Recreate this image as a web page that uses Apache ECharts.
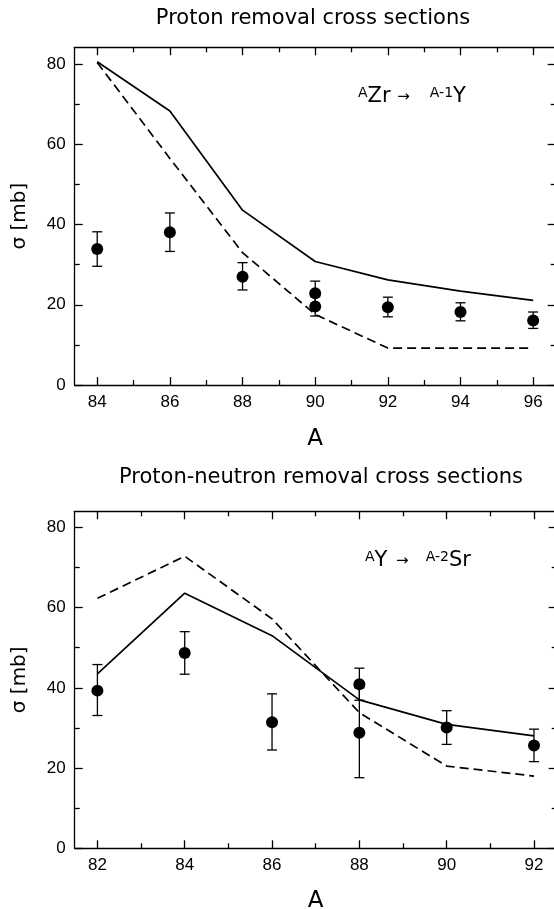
<!DOCTYPE html>
<html>
<head>
<meta charset="utf-8">
<script src="https://cdn.jsdelivr.net/npm/echarts@6/dist/echarts.min.js"></script>
<style>
  html, body { margin: 0; padding: 0; background: #fff; }
  #chart { width: 554px; height: 909px; }
</style>
</head>
<body>
<div id="chart"></div>
<script>
// ---- Proton removal: AZr -> A-1Y ----
const zrMass = [84, 86, 88, 90, 92, 94, 96];
const zrSolid = [80.6, 68.3, 43.6, 30.8, 26.2, 23.4, 21.1];
const zrDashed = [80.4, 56.5, 33.0, 17.6, 9.2, 9.2, 9.2];
const zrExpMass = [84, 86, 88, 90, 90, 92, 94, 96];
const zrExpSigma = [33.9, 38.1, 27.0, 22.9, 19.6, 19.4, 18.2, 16.1];
const zrExpLow = [29.6, 33.3, 23.7, 19.9, 17.2, 17.0, 16.0, 14.1];
const zrExpHigh = [38.2, 42.9, 30.5, 25.9, 22.0, 21.9, 20.5, 18.2];
const zrTicksMajor = [84, 86, 88, 90, 92, 94, 96];
const zrTicksMinor = [85, 87, 89, 91, 93, 95];

// ---- Proton-neutron removal: AY -> A-2Sr ----
const yMass = [82, 84, 86, 88, 90, 92];
const ySolid = [43.5, 63.6, 53.0, 37.0, 30.9, 28.0];
const yDashed = [62.3, 72.8, 57.2, 33.8, 20.5, 18.0];
const yExpMass = [82, 84, 86, 88, 88, 90, 92];
const yExpSigma = [39.3, 48.7, 31.4, 40.9, 28.8, 30.1, 25.6];
const yExpLow = [33.1, 43.4, 24.5, 36.9, 17.6, 25.9, 21.6];
const yExpHigh = [45.8, 54.0, 38.5, 44.9, 40.0, 34.3, 29.7];
const yTicksMajor = [82, 84, 86, 88, 90, 92];
const yTicksMinor = [83, 85, 87, 89, 91];

const sigmaMajor = [0, 20, 40, 60, 80];
const sigmaMinor = [10, 30, 50, 70];

const LABEL_FONT = 'Liberation Sans';
const TEXT_FONT = 'DejaVu Sans';
const INK = '#000';

function zip(a, b) { return a.map((v, i) => [v, b[i]]); }
function zip3(a, b, c) { return a.map((v, i) => [v, b[i], c[i]]); }

// Four axes per direction: labelled major, short minor, and mirrored ones on the opposite side
function frameAxes(kind, gridIndex, min, max, major, minor, name, nameGap) {
  const lowSide = kind === 'x' ? 'bottom' : 'left';
  const highSide = kind === 'x' ? 'top' : 'right';
  const base = (position, ticks, len, withLabels, withLine) => ({
    type: 'value', gridIndex, position, min, max,
    axisLine: { show: withLine, onZero: false, lineStyle: { color: INK, width: 1.3 } },
    axisTick: { show: true, inside: true, length: len, customValues: ticks, lineStyle: { color: INK, width: 1.3 } },
    axisLabel: withLabels ? {
      show: true, customValues: ticks, margin: 9,
      fontFamily: LABEL_FONT, fontSize: 17, color: INK,
      formatter: v => String(v)
    } : { show: false },
    splitLine: { show: false },
    name: withLabels ? name : '',
    nameLocation: 'middle', nameGap,
    nameRotate: kind === 'y' ? 90 : 0,
    nameTextStyle: { fontFamily: TEXT_FONT, fontSize: kind === 'y' ? 20 : 23, color: INK }
  });
  // the right-hand frame edge falls just past the page edge, so only its ticks show
  const highLine = kind === 'x';
  return [
    base(lowSide, major, 8, true, true),
    base(lowSide, minor, 5, false, false),
    base(highSide, major, 8, false, highLine),
    base(highSide, minor, 5, false, false)
  ];
}

function curveSeries(xi, yi, mass, vals, dashed) {
  return {
    type: 'line', xAxisIndex: xi, yAxisIndex: yi,
    data: zip(mass, vals), showSymbol: false, symbol: 'none',
    lineStyle: { color: INK, width: 1.7, type: dashed ? [9, 5] : 'solid' },
    z: 2, animation: false
  };
}

function pointSeries(xi, yi, mass, vals) {
  return {
    type: 'scatter', xAxisIndex: xi, yAxisIndex: yi,
    data: zip(mass, vals), symbol: 'circle', symbolSize: 12,
    itemStyle: { color: INK, opacity: 1 }, z: 4, animation: false
  };
}

function errorSeries(xi, yi, mass, low, high) {
  return {
    type: 'custom', xAxisIndex: xi, yAxisIndex: yi,
    data: zip3(mass, low, high),
    encode: { x: 0, y: [1, 2] },
    renderItem: (params, api) => {
      const top = api.coord([api.value(0), api.value(2)]);
      const bot = api.coord([api.value(0), api.value(1)]);
      const half = 5;
      const st = { stroke: INK, lineWidth: 1.3 };
      return {
        type: 'group',
        children: [
          { type: 'line', shape: { x1: top[0], y1: top[1], x2: bot[0], y2: bot[1] }, style: st },
          { type: 'line', shape: { x1: top[0] - half, y1: top[1], x2: top[0] + half, y2: top[1] }, style: st },
          { type: 'line', shape: { x1: bot[0] - half, y1: bot[1], x2: bot[0] + half, y2: bot[1] }, style: st }
        ]
      };
    },
    z: 3, animation: false
  };
}

const xAxes = [
  ...frameAxes('x', 0, 83.38, 96.62, zrTicksMajor, zrTicksMinor, 'A', 43),
  ...frameAxes('x', 1, 81.48, 92.52, yTicksMajor, yTicksMinor, 'A', 41)
];
const yAxes = [
  ...frameAxes('y', 0, 0, 84.2, sigmaMajor, sigmaMinor, 'σ [mb]', 45),
  ...frameAxes('y', 1, 0, 84.0, sigmaMajor, sigmaMinor, 'σ [mb]', 45)
];

const supStyle = { fontFamily: TEXT_FONT, fontSize: 14, lineHeight: 22, verticalAlign: 'top', color: INK };
const mainStyle = { fontFamily: TEXT_FONT, fontSize: 21, lineHeight: 22, color: INK };
const arrowTop = { fontFamily: TEXT_FONT, fontSize: 15, lineHeight: 22, color: INK, padding: [0, 20, 0, 0] };
const arrowBot = { fontFamily: TEXT_FONT, fontSize: 15, lineHeight: 22, color: INK, padding: [0, 17, 0, 2] };

const option = {
  backgroundColor: '#fff',
  animation: false,
  grid: [
    { left: 74.7, top: 47.3, width: 481, height: 337.7, outerBoundsMode: 'none' },
    { left: 74.7, top: 511.3, width: 482, height: 337, outerBoundsMode: 'none' }
  ],
  xAxis: xAxes,
  yAxis: yAxes,
  graphic: [
    { type: 'text', x: 313, y: 19, style: { text: 'Proton removal cross sections', align: 'center', verticalAlign: 'middle', fontFamily: TEXT_FONT, fontSize: 21, fill: INK } },
    { type: 'text', x: 321, y: 478, style: { text: 'Proton-neutron removal cross sections', align: 'center', verticalAlign: 'middle', fontFamily: TEXT_FONT, fontSize: 21, fill: INK } },
    { type: 'text', x: 358, y: 86, style: {
        text: '{s|A}{m|Zr }{a|→}{s|A-1}{m|Y}',
        rich: { s: supStyle, m: mainStyle, a: arrowTop } } },
    { type: 'text', x: 365, y: 550, style: {
        text: '{s|A}{m|Y }{a|→}{s|A-2}{m|Sr}',
        rich: { s: supStyle, m: mainStyle, a: arrowBot } } }
  ],
  series: [
    curveSeries(0, 0, zrMass, zrSolid, false),
    curveSeries(0, 0, zrMass, zrDashed, true),
    errorSeries(0, 0, zrExpMass, zrExpLow, zrExpHigh),
    pointSeries(0, 0, zrExpMass, zrExpSigma),
    curveSeries(4, 4, yMass, ySolid, false),
    curveSeries(4, 4, yMass, yDashed, true),
    errorSeries(4, 4, yExpMass, yExpLow, yExpHigh),
    pointSeries(4, 4, yExpMass, yExpSigma)
  ]
};

echarts.init(document.getElementById('chart'), null, { renderer: 'canvas' }).setOption(option);
</script>
</body>
</html>
